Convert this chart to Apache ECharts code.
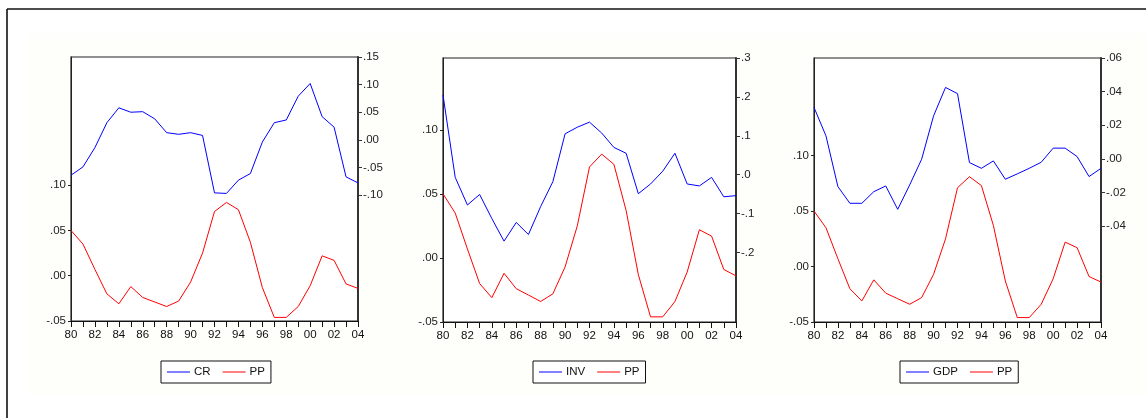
<!DOCTYPE html>
<html>
<head>
<meta charset="utf-8">
<script src="https://cdn.jsdelivr.net/npm/echarts@6/dist/echarts.min.js"></script>
<style>
  html, body { margin: 0; padding: 0; background: #ffffff; }
  #chart { width: 1146px; height: 418px; }
</style>
</head>
<body>
<div id="chart"></div>
<script>
// Years 1980-2004, labelled with two digits
const years = ['80','81','82','83','84','85','86','87','88','89','90','91','92',
               '93','94','95','96','97','98','99','00','01','02','03','04'];

// PP (left scale in every panel)
const pp = [0.050, 0.035, 0.007, -0.020, -0.031, -0.012, -0.024, -0.029, -0.034, -0.028,
            -0.007, 0.025, 0.071, 0.081, 0.073, 0.037, -0.013, -0.046, -0.046, -0.034,
            -0.011, 0.022, 0.017, -0.009, -0.014];

// CR (right scale, panel 1)
const cr = [-0.064, -0.049, -0.014, 0.031, 0.058, 0.050, 0.051, 0.038, 0.013, 0.010,
            0.013, 0.008, -0.096, -0.097, -0.073, -0.061, -0.004, 0.031, 0.036, 0.079,
            0.102, 0.042, 0.023, -0.067, -0.078];

// INV (right scale, panel 2)
const inv = [0.205, -0.007, -0.078, -0.051, -0.113, -0.171, -0.123, -0.154, -0.082, -0.018,
             0.105, 0.122, 0.135, 0.107, 0.070, 0.055, -0.049, -0.024, 0.009, 0.055,
             -0.024, -0.029, -0.007, -0.057, -0.054];

// GDP (right scale, panel 3)
const gdp = [0.0306, 0.0137, -0.0165, -0.0264, -0.0264, -0.0195, -0.0161, -0.0300, -0.0155, -0.0002,
             0.0256, 0.0425, 0.0388, -0.0022, -0.0056, -0.0012, -0.0121, -0.0089, -0.0056, -0.0020,
             0.0064, 0.0064, 0.0014, -0.0105, -0.0056];

// Labelled tick values on each scale
const ppTicks  = [-0.05, 0.00, 0.05, 0.10];
const crTicks  = [-0.10, -0.05, 0.00, 0.05, 0.10, 0.15];
const invTicks = [-0.2, -0.1, 0.0, 0.1, 0.2, 0.3];
const gdpTicks = [-0.04, -0.02, 0.00, 0.02, 0.04, 0.06];

const BLUE = '#0000ff';
const RED = '#ff0000';
const FONT = 'Liberation Sans, Arial, sans-serif';

// ".05" style labels
function fmt(decimals) {
  return function (v) {
    return Number(v).toFixed(decimals).replace('0.', '.');
  };
}

const panels = [
  { name: 'CR',  values: cr,  ticks: crTicks,  dec: 2, rMin: -0.328, rMax: 0.15, lMax: 0.2417,
    grid: { left: 71,  top: 57, width: 287, height: 264 }, legendLeft: 161 },
  { name: 'INV', values: inv, ticks: invTicks, dec: 1, rMin: -0.379, rMax: 0.3,  lMax: 0.156,
    grid: { left: 443, top: 58, width: 293, height: 264 }, legendLeft: 533 },
  { name: 'GDP', values: gdp, ticks: gdpTicks, dec: 2, rMin: -0.097, rMax: 0.06, lMax: 0.188,
    grid: { left: 814, top: 58, width: 287, height: 264 }, legendLeft: 900 }
];

const grids = [], xAxes = [], yAxes = [], series = [], legends = [];

panels.forEach(function (p, i) {
  grids.push(Object.assign({
    show: true, backgroundColor: '#ffffff', borderColor: '#222222', borderWidth: 1.2
  }, p.grid));

  xAxes.push({
    type: 'category', gridIndex: i, data: years, boundaryGap: false,
    axisLine: { show: true, onZero: false, lineStyle: { color: '#111111', width: 1.2 } },
    axisTick: { show: true, interval: 0, length: 6, lineStyle: { color: '#111111' } },
    axisLabel: { interval: 1, margin: 8, color: '#111111', fontSize: 11.5, fontFamily: FONT },
    splitLine: { show: false }
  });

  // left scale: PP
  yAxes.push({
    type: 'value', gridIndex: i, position: 'left', min: -0.05, max: p.lMax,
    axisLine: { show: true, lineStyle: { color: '#222222', width: 1 } },
    axisTick: { show: true, length: 3, customValues: ppTicks, lineStyle: { color: '#222222' } },
    axisLabel: { customValues: ppTicks, formatter: fmt(2), margin: 5, color: '#222222',
                 fontSize: 11.5, fontFamily: FONT, padding: [0, 0, 4, 0] },
    splitLine: { show: false }
  });

  // right scale: the panel's own series
  yAxes.push({
    type: 'value', gridIndex: i, position: 'right', min: p.rMin, max: p.rMax,
    axisLine: { show: true, lineStyle: { color: '#333333', width: 2 } },
    axisTick: { show: true, length: 4, customValues: p.ticks, lineStyle: { color: '#333333' } },
    axisLabel: { customValues: p.ticks, formatter: fmt(p.dec), margin: 5, color: '#222222',
                 fontSize: 11.5, fontFamily: FONT, padding: [0, 0, 4, 0] },
    splitLine: { show: false }
  });

  series.push({
    name: p.name, type: 'line', xAxisIndex: i, yAxisIndex: 2 * i + 1, data: p.values,
    symbol: 'none', lineStyle: { color: BLUE, width: 1 }, itemStyle: { color: BLUE },
    animation: false
  });
  series.push({
    name: 'PP', type: 'line', xAxisIndex: i, yAxisIndex: 2 * i, data: pp,
    symbol: 'none', lineStyle: { color: RED, width: 1 }, itemStyle: { color: RED },
    animation: false
  });

  legends.push({
    left: p.legendLeft, top: 361, orient: 'horizontal',
    data: [{ name: p.name, itemStyle: { color: BLUE } }, { name: 'PP', itemStyle: { color: RED } }],
    icon: 'rect', itemWidth: 23, itemHeight: 1, itemGap: 12,
    padding: [5, 6, 5, 6], borderColor: '#111111', borderWidth: 1, backgroundColor: '#ffffff',
    textStyle: { color: '#111111', fontSize: 11.5, fontFamily: FONT, padding: [0, 0, 0, -1] },
    selectedMode: false
  });
});

const chart = echarts.init(document.getElementById('chart'), null, { renderer: 'canvas' });
chart.setOption({
  backgroundColor: '#ffffff',
  animation: false,
  graphic: [
    // faint page tint behind the panels
    { type: 'rect', z: -10, silent: true, shape: { x: 29, y: 33, width: 1117, height: 362 },
      style: { fill: '#fefefa' } },
    // page frame
    { type: 'line', silent: true, shape: { x1: 7, y1: 9, x2: 1146, y2: 9 },
      style: { stroke: '#111111', lineWidth: 1.6 } },
    { type: 'line', silent: true, shape: { x1: 7, y1: 9, x2: 7, y2: 418 },
      style: { stroke: '#111111', lineWidth: 1.6 } }
  ],
  grid: grids,
  xAxis: xAxes,
  yAxis: yAxes,
  series: series,
  legend: legends
});
</script>
</body>
</html>
